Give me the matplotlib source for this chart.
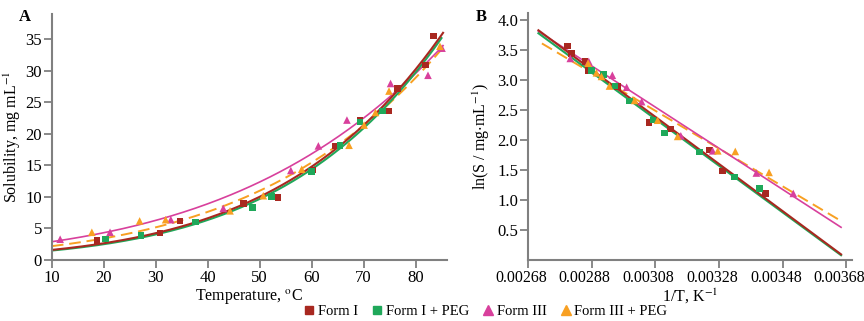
import numpy as np
import matplotlib
matplotlib.use("Agg")
import matplotlib.pyplot as plt
from matplotlib.lines import Line2D
from matplotlib.transforms import ScaledTranslation

plt.rcParams['font.family'] = ['Liberation Serif', 'DejaVu Serif']
plt.rcParams['mathtext.fontset'] = 'stix'
plt.rcParams['font.size'] = 11.5

# ---- data ----
names = ['Form I', 'Form I + PEG', 'Form III', 'Form III + PEG']
colors = ['#a82820', '#1fa85a', '#d8409c', '#f8a022']
markers = ['s', 's', '^', '^']

# panel A: temperature (C) vs solubility (mg/mL)
t_formI = [18.7, 30.8, 34.7, 46.9, 53.5, 60.3, 64.5, 69.3, 74.8, 76.5, 81.9, 83.5]
s_formI = [3.1, 4.3, 6.2, 9.0, 9.9, 14.3, 18.1, 22.1, 23.6, 27.2, 30.9, 35.5]
t_formI_peg = [20.3, 27.2, 37.7, 48.6, 52.3, 60.0, 65.5, 69.3, 73.6]
s_formI_peg = [3.3, 3.9, 6.0, 8.3, 10.1, 14.0, 18.2, 21.9, 23.6]
t_formIII = [11.6, 21.2, 32.9, 43.0, 56.0, 61.3, 66.8, 75.2, 82.4, 85.1]
s_formIII = [3.3, 4.4, 6.4, 8.2, 14.2, 18.1, 22.2, 28.0, 29.3, 33.6]
t_formIII_peg = [17.7, 26.9, 31.9, 44.3, 50.7, 58.1, 67.2, 70.1, 72.3, 74.9, 84.7]
s_formIII_peg = [4.4, 6.2, 6.4, 7.8, 10.2, 14.4, 18.2, 21.4, 23.4, 26.8, 33.9]

# van't Hoff curve params for panel A: ln S = a - b / T(K)
curve_a = [15.296, 15.475, 12.780, 13.781]
curve_b = [4198, 4267, 3317, 3679]
curve_tmax = [85.3, 85.0, 85.3, 85.0]

# panel B: 1/T vs ln S
x_formI = [0.002804, 0.002817, 0.002859, 0.002871, 0.002961, 0.003060, 0.003127, 0.003250, 0.003291, 0.003426]
y_formI = [3.57, 3.44, 3.31, 3.16, 2.89, 2.29, 2.18, 1.83, 1.48, 1.11]
x_formI_peg = [0.002880, 0.002917, 0.002953, 0.002999, 0.003072, 0.003108, 0.003218, 0.003329, 0.003407]
y_formI_peg = [3.16, 3.09, 2.90, 2.65, 2.33, 2.12, 1.80, 1.38, 1.19]
x_formIII = [0.002813, 0.002871, 0.002945, 0.002990, 0.003037, 0.003160, 0.003260, 0.003397, 0.003513]
y_formIII = [3.36, 3.31, 3.08, 2.88, 2.64, 2.07, 1.82, 1.45, 1.11]
x_formIII_peg = [0.002869, 0.002895, 0.002911, 0.002936, 0.003015, 0.003087, 0.003150, 0.003276, 0.003331, 0.003437]
y_formIII_peg = [3.28, 3.12, 3.06, 2.90, 2.66, 2.33, 2.06, 1.82, 1.81, 1.46]

# linear fits in panel B: ln S = intercept + slope * (1/T)
fit_slope = [-3932, -3895, -3437, -3152]
fit_intercept = [14.497, 14.347, 13.135, 12.196]
fit_xmin = [0.002713, 0.002713, 0.002713, 0.002724]
fit_xmax = 0.003663

b_ticks = [0.00268, 0.00288, 0.00308, 0.00328, 0.00348, 0.00368]
b_ticklabels = ['0.00268', '0.00288', '0.00308', '0.00328', '0.00348', '0.00368']

a_t = [t_formI, t_formI_peg, t_formIII, t_formIII_peg]
a_s = [s_formI, s_formI_peg, s_formIII, s_formIII_peg]
b_x = [x_formI, x_formI_peg, x_formIII, x_formIII_peg]
b_y = [y_formI, y_formI_peg, y_formIII, y_formIII_peg]

fig = plt.figure(figsize=(8.64, 3.21), dpi=100)
axA = fig.add_axes([0.060, 0.190, 0.457, 0.766])
axB = fig.add_axes([0.611, 0.190, 0.375, 0.770])

spine_col = '#808080'
for ax in (axA, axB):
    for s in ('top', 'right'):
        ax.spines[s].set_visible(False)
    for s in ('left', 'bottom'):
        ax.spines[s].set_color(spine_col)
        ax.spines[s].set_linewidth(1.5)
    ax.tick_params(direction='out', length=5.5, width=1.3, color=spine_col, labelsize=12, pad=1.5)

line_styles = ['-', '-', '-', (0, (6, 3))]
line_widths = [1.5, 1.5, 1.2, 1.4]
order = [3, 2, 1, 0]

# panel A
for i in order:
    tt = np.linspace(10, curve_tmax[i], 200)
    ss = np.exp(curve_a[i] - curve_b[i] / (tt + 273.15))
    axA.plot(tt, ss, color=colors[i], ls=line_styles[i], lw=line_widths[i], zorder=2)
for i in range(4):
    ms = 22 if markers[i] == 's' else 30
    axA.scatter(a_t[i], a_s[i], marker=markers[i], s=ms, color=colors[i],
                edgecolors='none', zorder=3)
axA.set_xlim(10, 86)
axA.set_ylim(0, 39)
axA.set_xticks(range(10, 81, 10))
axA.set_yticks(range(0, 36, 5))
axA.set_xlabel('Temperature, $^{\\mathrm{o}}$C', labelpad=1)
axA.set_ylabel('Solubility, mg mL$^{-1}$', labelpad=2)
fig.text(0.022, 0.935, 'A', fontweight='bold', fontsize=12)

# panel B
for i in order:
    xx = np.linspace(fit_xmin[i], fit_xmax, 50)
    axB.plot(xx, fit_intercept[i] + fit_slope[i] * xx, color=colors[i],
             ls=line_styles[i], lw=line_widths[i], zorder=2)
for i in range(4):
    ms = 22 if markers[i] == 's' else 30
    axB.scatter(b_x[i], b_y[i], marker=markers[i], s=ms, color=colors[i],
                edgecolors='none', zorder=3)
axB.set_xlim(0.00268, 0.003697)
axB.set_ylim(0, 4.12)
axB.set_xticks(b_ticks)
axB.set_xticklabels(b_ticklabels, fontsize=11.5)
# labels in the reference sit a few px left of their ticks
shift = ScaledTranslation(-7 / 100, 0, fig.dpi_scale_trans)
for tick in axB.xaxis.get_major_ticks():
    tick.label1.set_transform(tick.label1.get_transform() + shift)
axB.set_yticks([0.5, 1.0, 1.5, 2.0, 2.5, 3.0, 3.5, 4.0])
axB.set_yticklabels(['0.5', '1.0', '1.5', '2.0', '2.5', '3.0', '3.5', '4.0'])
axB.set_xlabel('1/T, K$^{-1}$', labelpad=1)
axB.set_ylabel('ln(S / mg$\\cdot$mL$^{-1}$)', labelpad=4)
fig.text(0.551, 0.935, 'B', fontweight='bold', fontsize=12)

handles = [Line2D([], [], ls='none', marker=markers[i], color=colors[i],
                  markersize=6 if markers[i] == 's' else 7) for i in range(4)]
fig.legend(handles, names, loc='center', bbox_to_anchor=(0.561, 0.03), ncol=4,
           frameon=False, handletextpad=0.1, columnspacing=0.8, handlelength=1.0,
           fontsize=10.5, borderpad=0)

fig.savefig('out.png', dpi=100)
